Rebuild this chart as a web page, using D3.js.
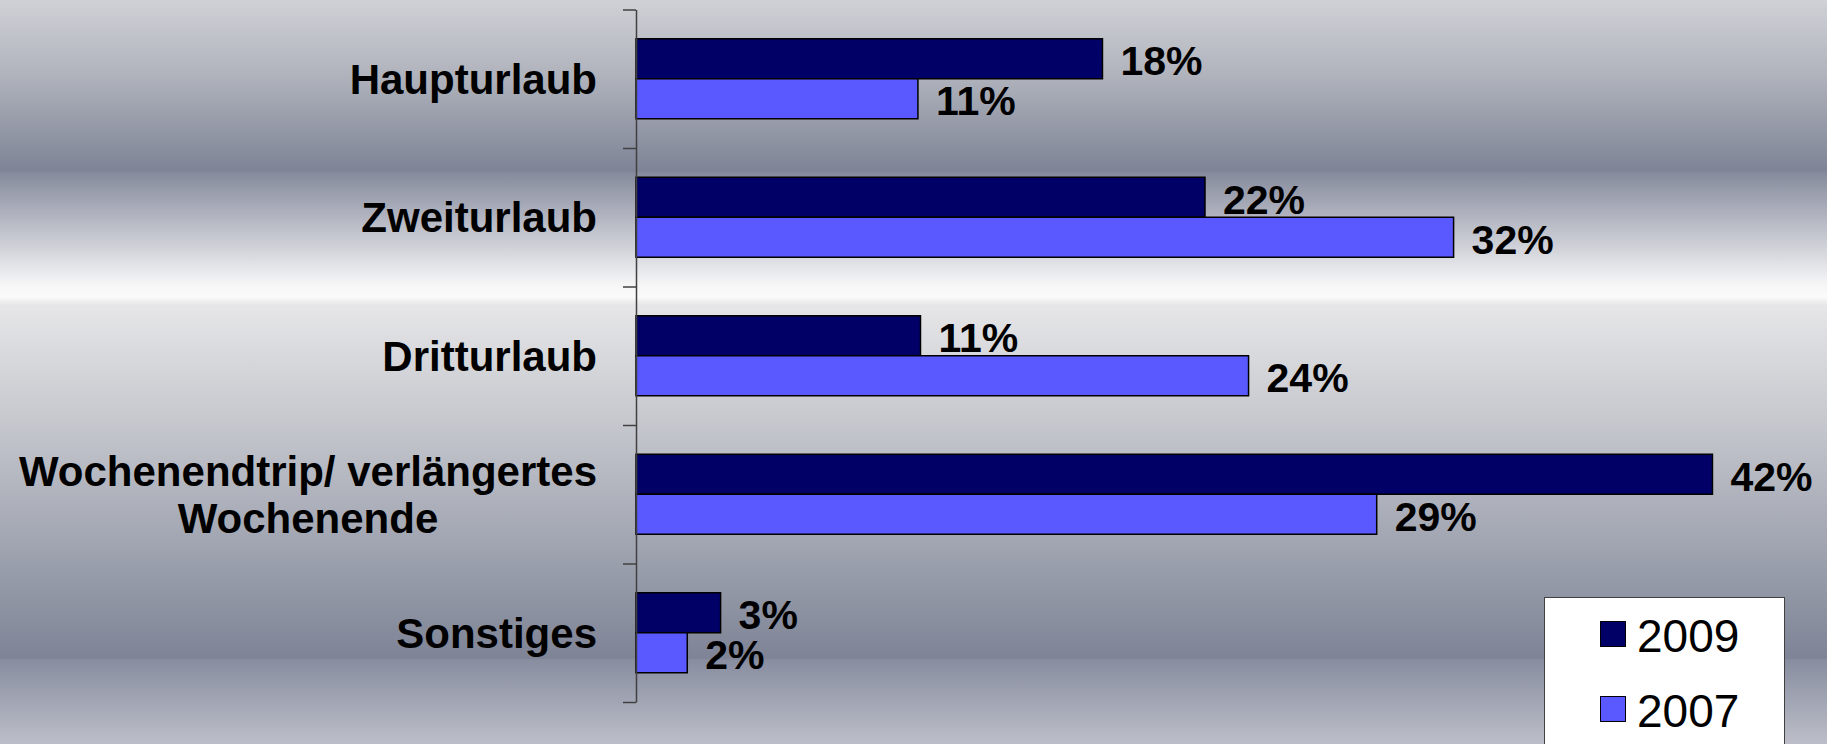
<!DOCTYPE html>
<html>
<head>
<meta charset="utf-8">
<script src="https://cdn.jsdelivr.net/npm/d3@7"></script>
<style>
  body { margin: 0; overflow: hidden; }
  text { font-family: Arial, "Liberation Sans", sans-serif; }
</style>
</head>
<body>
<div class="center"></div>
<script>
// chart data
const categories = ["Haupturlaub", "Zweiturlaub", "Dritturlaub", "Wochenendtrip/ verlängertes\nWochenende", "Sonstiges"];
const seriesNames = ["2009", "2007"];
const values2009 = [18.2, 22.2, 11.1, 42.0, 3.3];
const values2007 = [11.0, 31.9, 23.9, 28.9, 2.0];
const seriesColors = ["#000066", "#5959ff"];

const width = 1827;
const height = 744;
const plot = {left: 636, top: 9.5, bottom: 702};

const data = categories.map((c, i) => ({cat: c, values: [values2009[i], values2007[i]]}));

const svg = d3.select(".center").append("svg")
    .attr("width", width)
    .attr("height", height);

// background gradient
const defs = svg.append("defs");
const grad = defs.append("linearGradient")
    .attr("id", "bg")
    .attr("x1", 0).attr("y1", 0).attr("x2", 0).attr("y2", 1);
const stops = [
  [0, "#cfd1d6"], [75, "#b0b3bc"], [171, "#7e8496"], [173, "#868b9d"],
  [285, "#f6f6f7"], [297, "#fbfbfb"], [305, "#e6e6e8"], [420, "#c6c8ce"],
  [540, "#a2a6b2"], [658, "#7e8496"], [660, "#888da0"], [744, "#bcbfc8"]
];
stops.forEach(s => {
  grad.append("stop").attr("offset", (s[0] / height * 100) + "%").attr("stop-color", s[1]);
});
svg.append("rect").attr("width", width).attr("height", height).style("fill", "url(#bg)");

// scales
const xScale = d3.scaleLinear()
    .domain([0, 45])
    .range([plot.left, plot.left + 45 * 25.63]);

const yScale = d3.scaleBand()
    .domain(categories)
    .range([plot.top, plot.bottom])
    .paddingInner(0.4224)
    .paddingOuter(0.2112);

const ySub = d3.scaleBand()
    .domain(seriesNames)
    .range([0, yScale.bandwidth()]);

// bars
const groups = svg.selectAll(".grp")
    .data(data)
    .enter().append("g")
    .attr("class", "grp")
    .attr("transform", d => `translate(0,${yScale(d.cat)})`);

groups.selectAll("rect")
    .data(d => d.values.map((v, j) => ({v: v, s: seriesNames[j], j: j})))
    .enter().append("rect")
    .attr("x", xScale(0))
    .attr("y", d => ySub(d.s))
    .attr("width", d => xScale(d.v) - xScale(0))
    .attr("height", ySub.bandwidth())
    .style("fill", d => seriesColors[d.j])
    .style("stroke", "#000")
    .style("stroke-width", 1.5);

groups.selectAll(".val")
    .data(d => d.values.map((v, j) => ({v: v, s: seriesNames[j]})))
    .enter().append("text")
    .attr("class", "val")
    .attr("x", d => xScale(d.v) + 18)
    .attr("y", d => ySub(d.s) + 36.5)
    .style("font-size", "41px")
    .style("font-weight", "700")
    .style("fill", "#000")
    .text(d => d3.format(".0f")(d.v) + "%");

// axis with ticks at the category boundaries
const tickScale = d3.scaleLinear().domain([0, categories.length]).range([plot.top, plot.bottom]);
const yAxis = d3.axisLeft(tickScale)
    .ticks(categories.length)
    .tickFormat("")
    .tickSizeInner(13)
    .tickSizeOuter(0);
const axisG = svg.append("g")
    .attr("transform", `translate(${plot.left},0)`)
    .call(yAxis);
axisG.selectAll("path, line").style("stroke", "#404040").style("stroke-width", 1.5);

// category labels (multi-line labels are centred in a right-aligned block)
const labelRight = 597;
categories.forEach(c => {
  const lines = c.split("\n");
  const lh = 47;
  const cy = yScale(c) + yScale.bandwidth() / 2;
  const g = svg.append("g");
  const texts = lines.map((l, k) => g.append("text")
      .attr("y", cy - (lines.length - 1) * lh / 2 + k * lh + 15)
      .style("font-size", "42px")
      .style("font-weight", "700")
      .style("fill", "#000")
      .text(l));
  if (lines.length === 1) {
    texts[0].attr("x", labelRight).attr("text-anchor", "end");
  } else {
    const w = d3.max(texts, t => t.node().getComputedTextLength());
    texts.forEach(t => t.attr("x", labelRight - w / 2).attr("text-anchor", "middle"));
  }
});

// legend
const legend = svg.append("g");
legend.append("rect")
    .attr("x", 1544.5)
    .attr("y", 597.5)
    .attr("width", 240)
    .attr("height", 200)
    .style("fill", "#fff")
    .style("stroke", "#404040")
    .style("stroke-width", 1);
seriesNames.forEach((s, i) => {
  legend.append("rect")
      .attr("x", 1600.5)
      .attr("y", 621.5 + i * 75)
      .attr("width", 25)
      .attr("height", 25)
      .style("fill", seriesColors[i])
      .style("stroke", "#000")
      .style("stroke-width", 1);
  legend.append("text")
      .attr("x", 1637)
      .attr("y", 651.5 + i * 75)
      .style("font-size", "46px")
      .style("fill", "#000")
      .text(s);
});
</script>
</body>
</html>
